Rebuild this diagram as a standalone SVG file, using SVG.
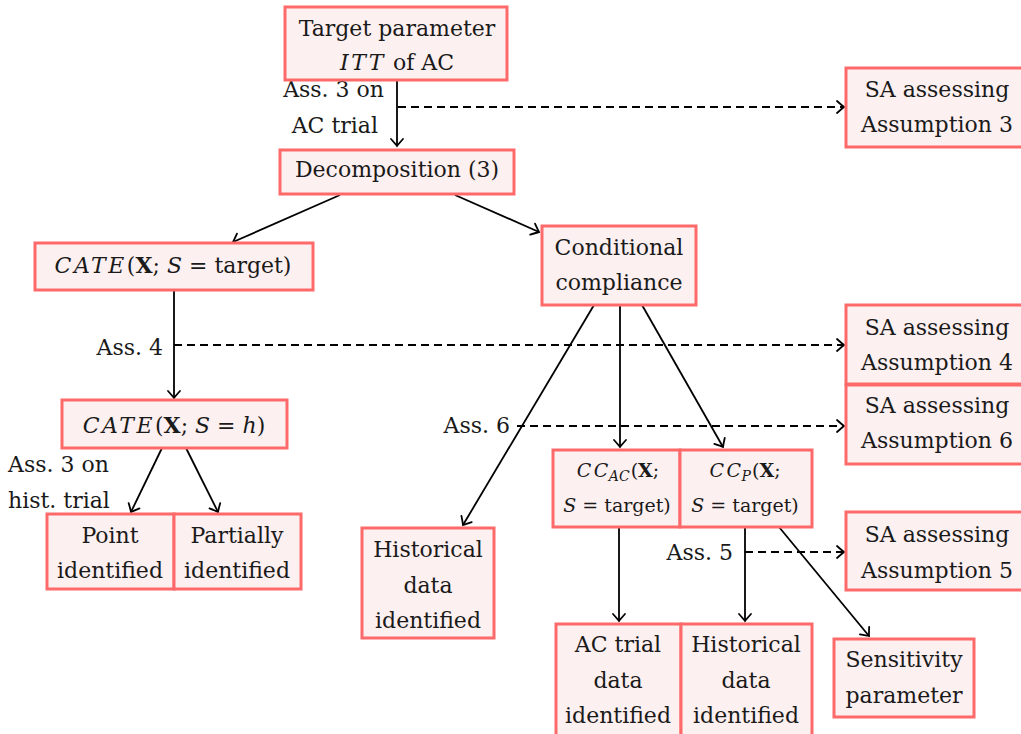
<svg xmlns="http://www.w3.org/2000/svg" width="1021" height="734" viewBox="0 0 1021 734">
<style>
.box{fill:#fdf0f0;stroke:#fe6a6a;stroke-width:3}
text{font-family:"DejaVu Serif","Liberation Serif",serif;font-size:22px;fill:#1a1a1a}
.c{text-anchor:middle}
.r{text-anchor:end}
.sm{font-size:19px}
.i{font-style:italic}
.m{font-style:italic;letter-spacing:2.5px}
.b{font-weight:bold}
.ln{stroke:#000;stroke-width:1.8;fill:none}
.d{stroke-dasharray:8 5}
</style>
<defs>
<marker id="ar" markerUnits="userSpaceOnUse" markerWidth="1" markerHeight="1" refX="0" refY="0" orient="auto" overflow="visible">
<path d="M-7,-6 Q-2,-1.5 0,0 Q-2,1.5 -7,6" fill="none" stroke="#000" stroke-width="1.8" stroke-linecap="round"/>
</marker>
</defs>
<g id="connectors">
<path class="ln" d="M397,80 V146" marker-end="url(#ar)"/>
<path class="ln d" d="M398,107 H844" marker-end="url(#ar)"/>
<path class="ln" d="M340,195 L233,242" marker-end="url(#ar)"/>
<path class="ln" d="M455,195 L539,232" marker-end="url(#ar)"/>
<path class="ln" d="M174,290 V398" marker-end="url(#ar)"/>
<path class="ln d" d="M174,345 H844" marker-end="url(#ar)"/>
<path class="ln" d="M162,448 L131,512" marker-end="url(#ar)"/>
<path class="ln" d="M186,448 L218,512" marker-end="url(#ar)"/>
<path class="ln" d="M594,305 L463,525" marker-end="url(#ar)"/>
<path class="ln" d="M620,305 V447" marker-end="url(#ar)"/>
<path class="ln" d="M642,305 L723,447" marker-end="url(#ar)"/>
<path class="ln d" d="M517,426 H844" marker-end="url(#ar)"/>
<path class="ln" d="M619,527 V621" marker-end="url(#ar)"/>
<path class="ln" d="M745,527 V621" marker-end="url(#ar)"/>
<path class="ln d" d="M745,552 H844" marker-end="url(#ar)"/>
<path class="ln" d="M779,527 L869,636" marker-end="url(#ar)"/>
<text class="r" x="384" y="97">Ass. 3 on</text>
<text class="r" x="378" y="133">AC trial</text>
<text class="r" x="163" y="355">Ass. 4</text>
<text x="8" y="472">Ass. 3 on</text>
<text x="8" y="508">hist. trial</text>
<text class="r" x="510" y="433">Ass. 6</text>
<text class="r" x="733" y="560">Ass. 5</text>
</g>
<g id="target">
<rect class="box" x="285" y="7" width="222" height="73"/>
<text class="c" x="397" y="36">Target parameter</text>
<text class="c" x="397" y="70"><tspan class="m">ITT</tspan> of AC</text>
</g>
<g id="decomp">
<rect class="box" x="280" y="150" width="234" height="44"/>
<text class="c" x="397" y="177">Decomposition (3)</text>
</g>
<g id="cate-target">
<rect class="box" x="35" y="243" width="278" height="47"/>
<text class="c" x="173" y="273"><tspan class="m">CATE</tspan>(<tspan class="b">X</tspan>; <tspan class="i">S</tspan> = target)</text>
</g>
<g id="cate-h">
<rect class="box" x="62" y="400" width="225" height="48"/>
<text class="c" x="174" y="433"><tspan class="m">CATE</tspan>(<tspan class="b">X</tspan>; <tspan class="i">S</tspan> = <tspan class="i">h</tspan>)</text>
</g>
<g id="point">
<rect class="box" x="47" y="514" width="127" height="75"/>
<text class="c" x="110" y="543">Point</text>
<text class="c" x="110" y="578">identified</text>
</g>
<g id="partial">
<rect class="box" x="174" y="514" width="127" height="75"/>
<text class="c" x="237" y="543">Partially</text>
<text class="c" x="237" y="578">identified</text>
</g>
<g id="condcomp">
<rect class="box" x="542" y="226" width="154" height="79"/>
<text class="c" x="619" y="255">Conditional</text>
<text class="c" x="619" y="290">compliance</text>
</g>
<g id="hist-mid">
<rect class="box" x="362" y="528" width="132" height="110"/>
<text class="c" x="428" y="557">Historical</text>
<text class="c" x="428" y="593">data</text>
<text class="c" x="428" y="628">identified</text>
</g>
<g id="cc-ac">
<rect class="box" x="553" y="450" width="127" height="77"/>
<text class="c sm" x="618" y="477"><tspan class="m">CC</tspan><tspan class="i" font-size="14" dy="4" dx="-2">AC</tspan><tspan dy="-4" dx="1">(</tspan><tspan class="b">X</tspan>;</text>
<text class="c sm" x="617" y="512"><tspan class="i">S</tspan> = target)</text>
</g>
<g id="cc-p">
<rect class="box" x="680" y="450" width="132" height="77"/>
<text class="c sm" x="745" y="477"><tspan class="m">CC</tspan><tspan class="i" font-size="14" dy="4" dx="-2">P</tspan><tspan dy="-4" dx="1">(</tspan><tspan class="b">X</tspan>;</text>
<text class="c sm" x="745" y="512"><tspan class="i">S</tspan> = target)</text>
</g>
<g id="ac-data">
<rect class="box" x="556" y="624" width="125" height="112"/>
<text class="c" x="618" y="652">AC trial</text>
<text class="c" x="618" y="688">data</text>
<text class="c" x="618" y="723">identified</text>
</g>
<g id="hist-data">
<rect class="box" x="681" y="624" width="131" height="112"/>
<text class="c" x="746" y="652">Historical</text>
<text class="c" x="746" y="688">data</text>
<text class="c" x="746" y="723">identified</text>
</g>
<g id="sens">
<rect class="box" x="834" y="639" width="140" height="78"/>
<text class="c" x="904" y="667">Sensitivity</text>
<text class="c" x="904" y="703">parameter</text>
</g>
<g id="sa3">
<rect class="box" x="846" y="68" width="190" height="79"/>
<text class="c" x="937" y="97">SA assessing</text>
<text class="c" x="937" y="132">Assumption 3</text>
</g>
<g id="sa4">
<rect class="box" x="846" y="305" width="190" height="79"/>
<text class="c" x="937" y="335">SA assessing</text>
<text class="c" x="937" y="370">Assumption 4</text>
</g>
<g id="sa6">
<rect class="box" x="846" y="385" width="190" height="79"/>
<text class="c" x="937" y="413">SA assessing</text>
<text class="c" x="937" y="448">Assumption 6</text>
</g>
<g id="sa5">
<rect class="box" x="846" y="512" width="190" height="78"/>
<text class="c" x="937" y="542">SA assessing</text>
<text class="c" x="937" y="578">Assumption 5</text>
</g>
</svg>
